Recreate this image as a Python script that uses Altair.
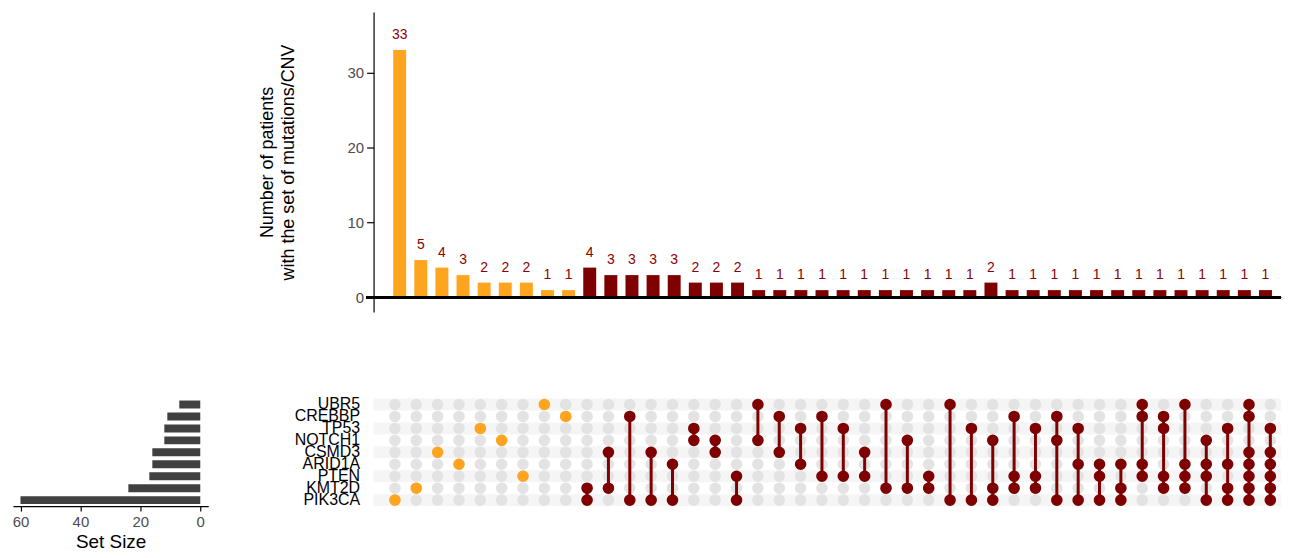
import altair as alt
import pandas as pd

# ---- data -------------------------------------------------------------
sets = ["UBR5", "CREBBP", "TP53", "NOTCH1", "CSMD3", "ARID1A", "PTEN", "KMT2D", "PIK3CA"]
set_sizes = [7, 11, 12, 12, 16, 16, 17, 24, 60]

intersections = [
    ["PIK3CA"], ["KMT2D"], ["CSMD3"], ["ARID1A"], ["TP53"], ["NOTCH1"], ["PTEN"], ["UBR5"], ["CREBBP"],
    ["KMT2D", "PIK3CA"], ["CSMD3", "KMT2D"], ["CREBBP", "PIK3CA"], ["CSMD3", "PIK3CA"],
    ["ARID1A", "PIK3CA"], ["TP53", "NOTCH1"], ["NOTCH1", "CSMD3"], ["PTEN", "PIK3CA"],
    ["UBR5", "NOTCH1"], ["CREBBP", "CSMD3"], ["TP53", "ARID1A"], ["CREBBP", "PTEN"],
    ["TP53", "PTEN"], ["CSMD3", "PTEN"], ["UBR5", "KMT2D"], ["NOTCH1", "KMT2D"],
    ["PTEN", "KMT2D"], ["UBR5", "PIK3CA"], ["TP53", "PIK3CA"],
    ["NOTCH1", "KMT2D", "PIK3CA"],
    ["CREBBP", "PTEN", "KMT2D"], ["TP53", "PTEN", "KMT2D"], ["CREBBP", "NOTCH1", "PIK3CA"],
    ["TP53", "ARID1A", "PIK3CA"], ["ARID1A", "PTEN", "PIK3CA"], ["ARID1A", "KMT2D", "PIK3CA"],
    ["UBR5", "CREBBP", "ARID1A", "PTEN"], ["CREBBP", "TP53", "PTEN", "KMT2D"],
    ["UBR5", "ARID1A", "PTEN", "KMT2D"], ["NOTCH1", "ARID1A", "PTEN", "PIK3CA"],
    ["TP53", "ARID1A", "KMT2D", "PIK3CA"],
    ["UBR5", "CREBBP", "CSMD3", "ARID1A", "PTEN", "KMT2D", "PIK3CA"],
    ["TP53", "CSMD3", "ARID1A", "PTEN", "KMT2D", "PIK3CA"],
]
counts = [33, 5, 4, 3, 2, 2, 2, 1, 1,
          4, 3, 3, 3, 3, 2, 2, 2,
          1, 1, 1, 1, 1, 1, 1, 1, 1, 1, 1,
          2,
          1, 1, 1, 1, 1, 1, 1, 1, 1, 1, 1, 1, 1]
striped_sets = ["UBR5", "TP53", "CSMD3", "PTEN", "PIK3CA"]

ORANGE = "#ffa41f"
DARKRED = "#7f0000"
FONT = "Liberation Sans"

# ---- tables -----------------------------------------------------------
cols = list(range(1, len(counts) + 1))
groups = ["single" if len(s) == 1 else "multi" for s in intersections]
bars_df = pd.DataFrame({"col": cols, "count": counts, "group": groups})

grid_df = pd.DataFrame([{"col": c, "set": s} for c in cols for s in sets])
dots_df = pd.DataFrame([{"col": c, "set": s, "group": g}
                        for c, inter, g in zip(cols, intersections, groups) for s in inter])
rank = {s: i for i, s in enumerate(sets)}
lines_df = pd.DataFrame([{"col": c,
                          "top": min(inter, key=lambda s: rank[s]),
                          "bottom": max(inter, key=lambda s: rank[s])}
                         for c, inter in zip(cols, intersections) if len(inter) > 1])
stripe_df = pd.DataFrame({"set": striped_sets})
size_df = pd.DataFrame({"set": sets, "size": set_sizes})

# ---- geometry ---------------------------------------------------------
W_MAIN = 911
H_TOP = 301
H_MAT = 108
W_SIZE = 196

x_scale = alt.Scale(domain=[0, 42.5], nice=False, zero=False)
color_scale = alt.Scale(domain=["single", "multi"], range=[ORANGE, DARKRED])

# ---- top: intersection sizes -----------------------------------------
top_base = alt.Chart(bars_df).encode(
    x=alt.X("col:Q", scale=x_scale, axis=None)
)
top_bars = top_base.mark_bar(size=13).encode(
    y=alt.Y("count:Q",
            scale=alt.Scale(domain=[-1.9, 38.05], nice=False, zero=False),
            axis=alt.Axis(values=[0, 10, 20, 30], grid=False, tickSize=7, tickColor="black",
                          tickWidth=1.2, domainColor="black", domainWidth=1.2,
                          labelColor="#4d4d4d", labelFontSize=15, labelFont=FONT, labelPadding=3,
                          title=["Number of patients", "with the set of mutations/CNV"],
                          titleFont=FONT, titleFontSize=18, titleFontWeight="normal",
                          titleColor="black", titlePadding=50, titleLineHeight=21)),
    y2=alt.datum(0),
    color=alt.Color("group:N", scale=color_scale, legend=None),
)
top_text = top_base.mark_text(dy=-8, baseline="bottom", fontSize=14, font=FONT,
                              color="#8b0000").encode(
    y=alt.Y("count:Q"),
    text=alt.Text("count:Q"),
)
zero_line = alt.Chart(bars_df).mark_rule(color="black", strokeWidth=2.5).encode(
    y=alt.datum(0), x=alt.value(-7), x2=alt.value(W_MAIN)
)
top_chart = alt.layer(top_bars, top_text, zero_line).properties(width=W_MAIN, height=H_TOP)

# ---- matrix -----------------------------------------------------------
y_mat = alt.Y("set:N", sort=sets,
              scale=alt.Scale(domain=sets, paddingInner=0, paddingOuter=0),
              axis=alt.Axis(title=None, ticks=False, domain=False, labelFontSize=16,
                            labelFont=FONT, labelColor="black", labelPadding=14))

stripes = alt.Chart(stripe_df).mark_rect(color="#f5f5f5").encode(
    y=y_mat, x=alt.value(0), x2=alt.value(W_MAIN)
)
grid_dots = alt.Chart(grid_df).mark_circle(size=135, color="#e3e3e3", opacity=1).encode(
    x=alt.X("col:Q", scale=x_scale, axis=None), y=y_mat
)
conn = alt.Chart(lines_df).mark_rule(color=DARKRED, strokeWidth=3).encode(
    x=alt.X("col:Q", scale=x_scale, axis=None),
    y=alt.Y("top:N", sort=sets, scale=alt.Scale(domain=sets, paddingInner=0, paddingOuter=0)),
    y2="bottom:N",
)
fill_dots = alt.Chart(dots_df).mark_circle(size=135, opacity=1).encode(
    x=alt.X("col:Q", scale=x_scale, axis=None), y=y_mat,
    color=alt.Color("group:N", scale=color_scale, legend=None),
)
matrix = alt.layer(stripes, grid_dots, conn, fill_dots).properties(width=W_MAIN, height=H_MAT)

# ---- set size bars ----------------------------------------------------
size_chart = alt.Chart(size_df).mark_bar(size=8, color="#404040").encode(
    y=alt.Y("set:N", sort=sets, scale=alt.Scale(domain=sets, paddingInner=0, paddingOuter=0),
            axis=None),
    x=alt.X("size:Q",
            scale=alt.Scale(domain=[-2.65, 62.5], reverse=True, nice=False, zero=False),
            axis=alt.Axis(values=[0, 20, 40, 60], grid=False, tickSize=5, tickColor="black",
                          tickWidth=1.2, domainColor="black", domainWidth=1.2,
                          labelColor="#4d4d4d", labelFontSize=15, labelFont=FONT, labelPadding=3,
                          title="Set Size", titleFont=FONT, titleFontSize=19,
                          titleFontWeight="normal", titleColor="black", titlePadding=4)),
    x2=alt.datum(0),
).properties(width=W_SIZE, height=H_MAT)

spacer = alt.Chart(pd.DataFrame({"a": [0]})).mark_point(opacity=0).encode(
    x=alt.value(0), y=alt.value(0)
).properties(width=W_SIZE, height=H_TOP)

chart = alt.concat(
    spacer, top_chart, size_chart, matrix,
    columns=2, bounds="flush", spacing={"row": 87, "column": 166},
).properties(
    padding={"left": 2, "top": 0, "right": 0, "bottom": 0}
).configure_view(stroke=None)

chart.save("out.html", embed_options={"renderer": "svg", "actions": False})
